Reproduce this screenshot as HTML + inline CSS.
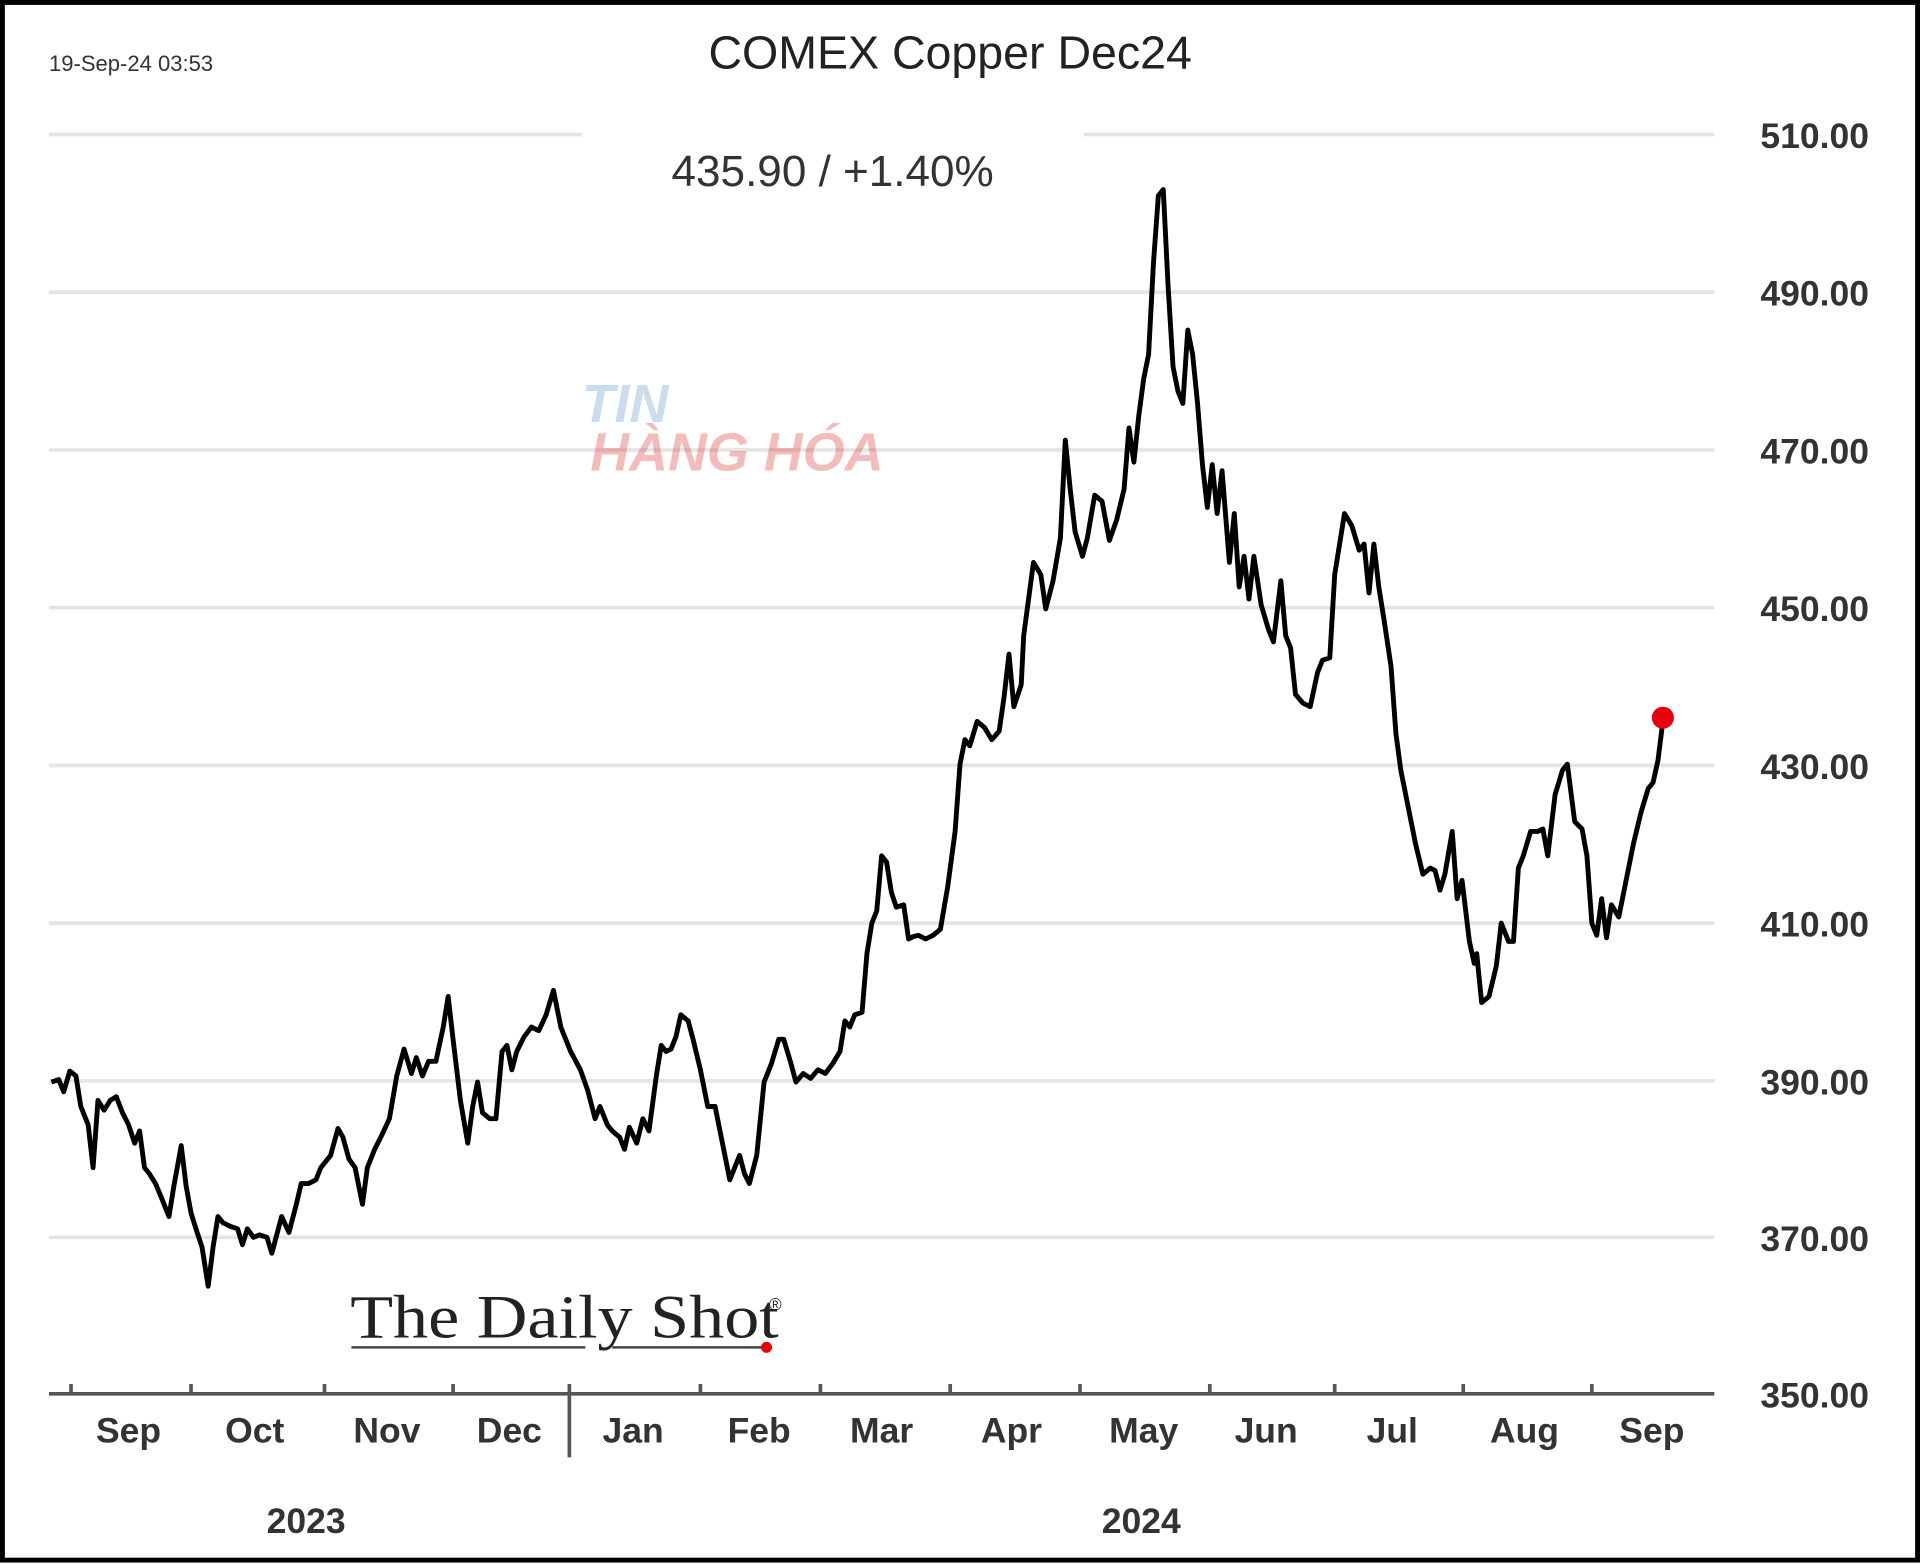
<!DOCTYPE html>
<html><head><meta charset="utf-8"><style>
html,body{margin:0;padding:0;background:#fff;}
svg{display:block;}
</style></head><body>
<svg width="1920" height="1565" viewBox="0 0 1568 1280" preserveAspectRatio="none" xmlns="http://www.w3.org/2000/svg" font-family="Liberation Sans, sans-serif">
<rect x="2" y="2" width="1564" height="1274" fill="#fff" stroke="#000" stroke-width="4"/>
<text x="40" y="58" font-size="18" fill="#333">19-Sep-24 03:53</text>
<text x="776" y="56" font-size="38" fill="#222" text-anchor="middle">COMEX Copper Dec24</text>
<text x="680" y="152" font-size="36" fill="#333" text-anchor="middle">435.90  /  +1.40%</text>
<g stroke="#e4e4e4" stroke-width="3">
<line x1="40" y1="110" x2="475" y2="110"/><line x1="885" y1="110" x2="1400" y2="110"/>
<line x1="40" y1="239" x2="1400" y2="239"/><line x1="40" y1="368" x2="1400" y2="368"/>
<line x1="40" y1="497" x2="1400" y2="497"/><line x1="40" y1="626" x2="1400" y2="626"/>
<line x1="40" y1="755" x2="1400" y2="755"/><line x1="40" y1="884" x2="1400" y2="884"/>
<line x1="40" y1="1012" x2="1400" y2="1012"/>
</g>
<g font-size="29" font-weight="bold" fill="#333" text-anchor="middle">
<text x="1482" y="121">510.00</text><text x="1482" y="250">490.00</text><text x="1482" y="379">470.00</text>
<text x="1482" y="508">450.00</text><text x="1482" y="637">430.00</text><text x="1482" y="766">410.00</text>
<text x="1482" y="895">390.00</text><text x="1482" y="1023">370.00</text><text x="1482" y="1151">350.00</text>
</g>
<line x1="40" y1="1140" x2="1400" y2="1140" stroke="#555" stroke-width="3"/>
<g stroke="#555" stroke-width="3">
<line x1="58" y1="1132" x2="58" y2="1140"/><line x1="156" y1="1132" x2="156" y2="1140"/><line x1="265" y1="1132" x2="265" y2="1140"/><line x1="370" y1="1132" x2="370" y2="1140"/>
<line x1="465" y1="1132" x2="465" y2="1192"/><line x1="572" y1="1132" x2="572" y2="1140"/><line x1="670" y1="1132" x2="670" y2="1140"/><line x1="776" y1="1132" x2="776" y2="1140"/>
<line x1="882" y1="1132" x2="882" y2="1140"/><line x1="988" y1="1132" x2="988" y2="1140"/><line x1="1090" y1="1132" x2="1090" y2="1140"/><line x1="1195" y1="1132" x2="1195" y2="1140"/><line x1="1300" y1="1132" x2="1300" y2="1140"/>
</g>
<g font-size="29" font-weight="bold" fill="#333" text-anchor="middle">
<text x="105" y="1180">Sep</text><text x="208" y="1180">Oct</text><text x="316" y="1180">Nov</text><text x="416" y="1180">Dec</text>
<text x="517" y="1180">Jan</text><text x="620" y="1180">Feb</text><text x="720" y="1180">Mar</text><text x="826" y="1180">Apr</text>
<text x="934" y="1180">May</text><text x="1034" y="1180">Jun</text><text x="1137" y="1180">Jul</text><text x="1245" y="1180">Aug</text><text x="1349" y="1180">Sep</text>
<text x="250" y="1254">2023</text><text x="932" y="1254">2024</text>
</g>
<g font-weight="bold" font-style="italic" font-size="44" opacity="0.35">
<text x="475" y="345" fill="#6a9ccc">TIN</text>
<text x="482" y="385" fill="#e04040">HÀNG HÓA</text>
</g>
<text x="286" y="1094" font-family="Liberation Serif, serif" font-size="50" fill="#222" textLength="350" lengthAdjust="spacingAndGlyphs">The Daily Shot</text>
<text x="628" y="1072" font-size="14" fill="#222">®</text>
<line x1="287" y1="1102" x2="478" y2="1102" stroke="#444" stroke-width="2"/>
<line x1="500" y1="1102" x2="622" y2="1102" stroke="#444" stroke-width="2"/>
<circle cx="626" cy="1102" r="4.5" fill="#e00"/>
<polyline fill="none" stroke="#000" stroke-width="4" stroke-linejoin="round" points="42,885 48,883 52,893 57,876 62,880 66,905 72,920 76,955 80,900 85,908 90,900 95,897 100,910 105,920 110,935 114,925 118,955 122,960 127,968 132,980 138,995 142,970 148,937 152,970 156,992 160,1005 165,1020 170,1052 174,1020 178,995 182,1000 188,1003 194,1005 198,1018 202,1005 207,1012 212,1010 218,1012 222,1025 226,1010 230,995 236,1008 242,985 246,968 252,968 258,965 262,955 270,945 276,923 280,930 285,948 290,955 296,985 300,955 306,940 312,928 318,915 324,880 330,858 336,878 340,865 345,880 350,868 356,868 362,840 366,815 370,850 376,900 382,935 386,905 390,885 394,910 400,915 405,915 410,860 414,855 418,875 422,860 428,848 434,840 440,843 446,830 452,810 458,840 466,860 474,875 480,892 486,915 490,905 496,920 500,925 506,930 510,940 514,922 520,935 525,915 530,925 536,880 540,855 544,860 548,858 552,848 556,830 562,835 566,850 572,875 578,905 584,905 590,935 596,965 600,955 604,945 608,960 612,968 618,945 624,885 630,870 636,850 640,850 646,870 650,885 656,878 662,882 668,875 674,878 680,870 686,860 690,835 694,840 698,830 704,828 708,780 712,755 716,745 720,700 724,705 728,730 732,742 738,740 742,768 746,766 750,765 756,768 762,765 768,760 774,725 780,680 784,625 788,605 792,610 798,590 804,595 810,605 816,598 820,570 824,535 828,578 834,560 836,520 840,490 844,460 850,470 854,498 860,475 866,440 870,360 874,400 878,435 884,455 888,440 894,405 900,410 906,442 912,425 918,400 922,350 926,378 930,340 934,310 938,290 942,215 946,160 950,155 954,235 958,300 962,320 966,330 970,270 974,290 978,330 982,380 986,415 990,380 994,420 998,385 1004,460 1008,420 1012,480 1016,455 1020,490 1024,455 1030,495 1036,515 1040,525 1046,475 1050,520 1054,530 1058,568 1064,575 1070,578 1076,550 1080,540 1086,538 1090,470 1098,420 1104,430 1110,450 1114,445 1118,485 1122,445 1126,480 1130,505 1136,545 1140,600 1144,630 1150,660 1156,690 1162,715 1168,710 1172,712 1176,728 1180,715 1186,680 1190,735 1194,720 1200,770 1204,788 1206,780 1210,820 1216,815 1222,790 1226,755 1232,770 1236,770 1240,710 1244,700 1250,680 1256,680 1260,678 1264,700 1270,650 1276,630 1280,625 1286,672 1292,678 1296,700 1300,755 1304,765 1308,735 1312,767 1316,740 1322,750 1328,720 1334,690 1340,665 1346,645 1350,640 1354,622 1358,590"/>
<circle cx="1358" cy="587" r="9" fill="#e8000b"/>
</svg>
</body></html>
